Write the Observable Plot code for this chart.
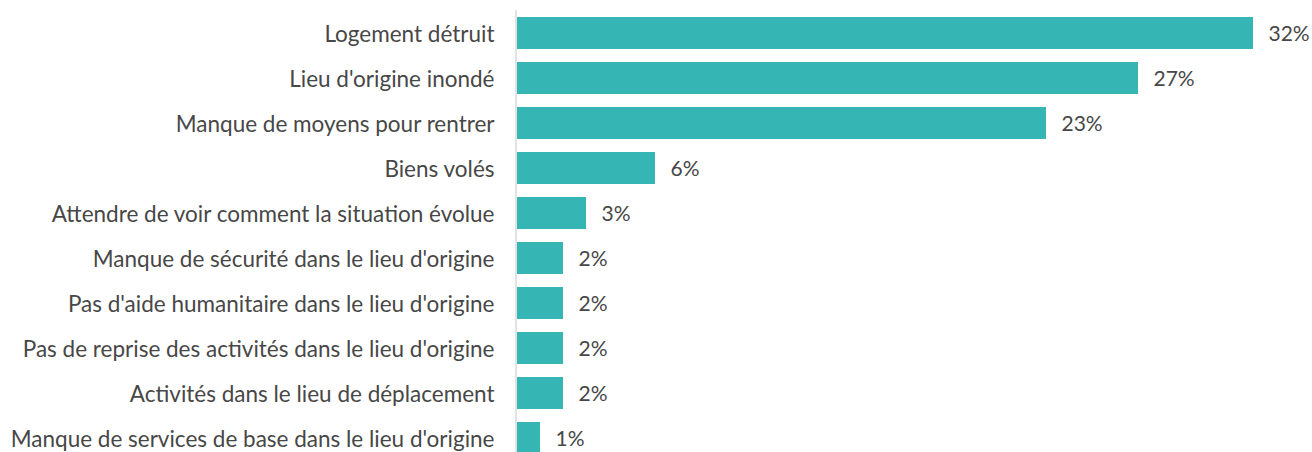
<!DOCTYPE html>
<html>
<head>
<meta charset="utf-8">
<script src="https://cdn.jsdelivr.net/npm/d3@7"></script>
<script src="https://cdn.jsdelivr.net/npm/@observablehq/plot@0.6"></script>
<style>
  html, body { margin: 0; padding: 0; background: #ffffff; }
  #chart svg { display: block; }
</style>
</head>
<body>
<div id="chart"></div>
<script>
// Raisons de ne pas retourner dans le lieu d'origine (% des réponses)
const reasons = [
  "Logement détruit",
  "Lieu d'origine inondé",
  "Manque de moyens pour rentrer",
  "Biens volés",
  "Attendre de voir comment la situation évolue",
  "Manque de sécurité dans le lieu d'origine",
  "Pas d'aide humanitaire dans le lieu d'origine",
  "Pas de reprise des activités dans le lieu d'origine",
  "Activités dans le lieu de déplacement",
  "Manque de services de base dans le lieu d'origine"
];
const shares = [32, 27, 23, 6, 3, 2, 2, 2, 2, 1];

const rows = reasons.map((reason, i) => ({reason, share: shares[i]}));

const fontFamily = "Lato, 'Open Sans', sans-serif";
const barColor = "#35b6b4";
const textColor = "#474747";

const chart = Plot.plot({
  width: 1312,
  height: 452,
  marginLeft: 517,
  marginRight: 59,
  marginTop: 10,
  marginBottom: 0,
  style: {fontFamily, fontSize: "22.5px", color: textColor, background: "#ffffff"},
  x: {domain: [0, 32], axis: null},
  // the last row runs past the bottom edge and is cut off
  y: {domain: reasons, range: [17, 454], paddingInner: 0.29, paddingOuter: 0, label: null},
  marks: [
    Plot.barX(rows, {x: "share", y: "reason", fill: barColor}),
    Plot.ruleX([0], {dx: -1.5, stroke: "#d9d9d9", strokeWidth: 1.5}),
    Plot.text(rows, {
      x: "share", y: "reason",
      text: d => `${d.share}%`,
      textAnchor: "start", dx: 15, dy: 1,
      fill: textColor, fontSize: 21
    }),
    Plot.axisY({
      tickSize: 0, tickPadding: 23, label: null,
      fontSize: 22.5, fill: textColor, dy: 1
    })
  ]
});

document.getElementById("chart").appendChild(chart);
</script>
</body>
</html>
